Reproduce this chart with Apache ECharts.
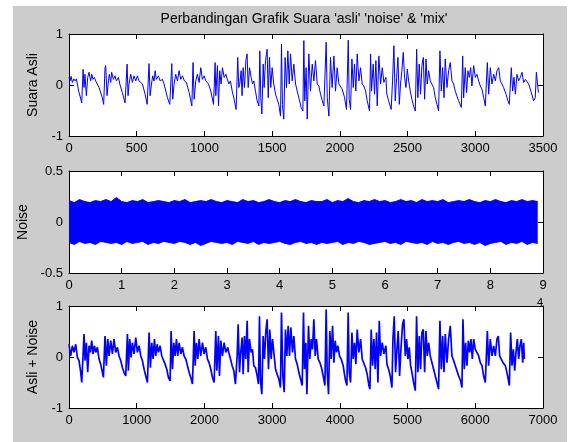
<!DOCTYPE html>
<html>
<head>
<meta charset="utf-8">
<title>Perbandingan Grafik Suara</title>
<script src="https://cdn.jsdelivr.net/npm/echarts@6.0.0/dist/echarts.min.js"></script>
<style>
  html, body { margin: 0; padding: 0; background: #fff; }
  #chart { width: 571px; height: 442px; }
</style>
</head>
<body>
<div id="chart"></div>
<script>
// sinyal asli: nomor sampel dan amplitudo
const asliT = [
  0, 8, 15, 25, 35, 45, 55, 70, 94, 104, 111, 118, 128, 138, 148, 160, 168, 177, 187, 197, 210, 222, 246, 256,
  266, 271, 281, 291, 298, 308, 315, 328, 340, 350, 365, 375, 394, 414,
  429, 436, 443, 456, 468, 480, 493, 505, 517, 530, 542, 562, 577,
  591, 599, 609, 618, 628, 636, 645, 660, 673, 690, 702, 727, 744,
  759, 766, 776, 788, 801, 813, 825, 838, 852, 867, 887, 907,
  916, 924, 936, 948, 961, 973, 985, 998, 1010, 1030, 1047, 1067,
  1079, 1084, 1096, 1104, 1113, 1123, 1133, 1146, 1158, 1173,
  1180, 1192, 1205, 1217, 1234, 1246, 1254, 1261, 1271, 1278, 1286, 1296, 1306, 1315, 1323, 1333, 1345, 1355, 1365, 1377, 1389, 1402, 1409, 1416, 1424,
  1434, 1441, 1451, 1463, 1471, 1480, 1490, 1500, 1512, 1525, 1537, 1549, 1562, 1569, 1576, 1586,
  1596, 1606, 1616, 1626, 1636, 1648, 1660, 1673, 1685, 1697, 1714, 1727, 1734, 1741, 1751, 1759,
  1771, 1783, 1796, 1808, 1820, 1833, 1845, 1857, 1870, 1882, 1899, 1907, 1919,
  1931, 1943, 1956, 1968, 1980, 1993, 2005, 2017, 2035, 2049, 2062, 2069, 2079,
  2089, 2099, 2108, 2118, 2128, 2141, 2153, 2165, 2177, 2190, 2202, 2219,
  2227, 2234, 2246, 2256, 2266, 2276, 2288, 2301, 2313, 2325, 2340,
  2347, 2360, 2379, 2389, 2399, 2409, 2419, 2429, 2439, 2448, 2458, 2468, 2478, 2488, 2498, 2508, 2520, 2532, 2544, 2557,
  2567, 2576, 2586, 2596, 2606, 2616, 2626, 2636, 2645, 2655, 2668, 2680, 2692, 2705, 2717, 2729,
  2739, 2749, 2759, 2769, 2778, 2791, 2803, 2815, 2828, 2840, 2852, 2877, 2897,
  2907, 2914, 2926, 2936, 2946, 2956, 2966, 2975, 2988, 3000, 3012, 3025, 3037, 3049, 3062, 3074,
  3089, 3099, 3111, 3123, 3136, 3148, 3160, 3173, 3185, 3197, 3209, 3227, 3241, 3251,
  3266, 3276, 3286, 3296, 3308, 3320, 3333, 3345, 3357, 3370, 3382, 3394, 3411, 3431, 3443, 3451, 3458, 3466
];
const asliV = [
  0.15, 0.08, 0.17, 0.05, 0.12, 0.08, 0.12, -0.10, -0.35, 0.31, -0.05, 0.21, -0.21, 0.15, 0.25, 0.08, 0.21, 0.11, 0.15, 0.08, 0.11, -0.05, -0.25, -0.38,
  0.34, 0.38, -0.21, 0.08, 0.21, 0.05, 0.25, 0.11, 0.18, 0.08, 0.15, 0.02, -0.15, -0.35,
  0.41, -0.21, 0.02, 0.21, 0.05, 0.18, 0.08, 0.18, 0.08, 0.11, 0.02, -0.18, -0.38,
  0.42, -0.21, 0.02, 0.18, 0.08, 0.28, 0.11, 0.18, 0.08, 0.11, 0.02, -0.25, -0.38,
  0.42, -0.28, 0.02, 0.21, 0.08, 0.28, 0.11, 0.18, 0.08, 0.05, -0.15, -0.41,
  0.44, -0.28, 0.08, 0.21, 0.05, 0.34, 0.11, 0.18, 0.08, 0.02, -0.12, -0.38,
  0.44, -0.21, 0.38, -0.41, 0.28, 0.02, 0.34, 0.15, 0.21, 0.08,
  0.02, 0.08, -0.12, -0.25, -0.48, 0.54, -0.05, 0.02, 0.28, -0.21, 0.34, -0.05, 0.48, 0.61, -0.05, 0.34, 0.15, 0.02, 0.08, -0.12, -0.31, -0.41, 0.67, -0.25, -0.57,
  0.41, -0.05, 0.48, 0.70, -0.25, 0.54, -0.05, 0.34, 0.02, -0.18, -0.28, -0.38, -0.61, 0.80, -0.38, -0.67,
  0.54, -0.05, 0.67, 0.02, 0.61, 0.08, 0.41, 0.02, -0.12, -0.25, -0.44, -0.51, 0.87, -0.31, 0.34, -0.67,
  0.61, -0.12, 0.41, 0.08, 0.48, 0.02, -0.02, -0.18, -0.31, -0.41, 0.84, -0.25, -0.61,
  0.54, -0.05, 0.57, -0.12, 0.34, 0.02, 0.02, -0.08, -0.25, -0.48, 0.88, -0.28, -0.48,
  0.51, -0.05, 0.41, -0.12, 0.61, 0.08, 0.34, 0.02, -0.02, -0.12, -0.31, -0.51,
  0.61, -0.12, 0.41, -0.18, 0.48, -0.41, 0.57, 0.02, 0.34, 0.05, 0.15,
  -0.18, -0.31, -0.48, 0.08, 0.77, -0.31, 0.15, 0.54, -0.38, 0.02, 0.28, 0.64, 0.15, -0.05, 0.31, 0.08, -0.12, -0.28, -0.41, -0.51,
  0.70, -0.25, 0.41, -0.18, 0.38, 0.54, -0.28, 0.51, 0.02, 0.28, 0.08, 0.05, -0.05, -0.25, -0.38, -0.51,
  0.67, -0.12, 0.34, -0.25, 0.51, -0.05, 0.28, 0.44, 0.08, 0.02, -0.12, -0.31, -0.44,
  0.57, -0.25, 0.34, -0.15, 0.28, 0.15, 0.34, -0.02, 0.38, 0.15, 0.21, 0.08, -0.02, -0.08, -0.25, -0.41,
  0.44, -0.18, 0.34, 0.02, 0.21, 0.08, 0.28, 0.34, 0.08, 0.02, -0.05, -0.18, -0.31, -0.38,
  0.34, -0.12, 0.15, -0.18, 0.21, 0.08, 0.15, 0.25, 0.05, 0.11, 0.08, 0.02, -0.12, -0.31, -0.25, 0.25, 0.28, -0.15
];

// noise: posisi (x 10^4 sampel) dan batas atas / bawah pita
const noiseX = [
  0, 0.1, 0.2, 0.3, 0.4, 0.5, 0.6, 0.7, 0.8, 0.9,
  1.0, 1.1, 1.2, 1.3, 1.4, 1.5, 1.6, 1.7, 1.8, 1.9,
  2.0, 2.1, 2.2, 2.3, 2.4, 2.5, 2.6, 2.7, 2.8, 2.9,
  3.0, 3.1, 3.2, 3.3, 3.4, 3.5, 3.6, 3.7, 3.8, 3.9,
  4.0, 4.1, 4.2, 4.3, 4.4, 4.5, 4.6, 4.7, 4.8, 4.9,
  5.0, 5.1, 5.2, 5.3, 5.4, 5.5, 5.6, 5.7, 5.8, 5.9,
  6.0, 6.1, 6.2, 6.3, 6.4, 6.5, 6.6, 6.7, 6.8, 6.9,
  7.0, 7.1, 7.2, 7.3, 7.4, 7.5, 7.6, 7.7, 7.8, 7.9,
  8.0, 8.1, 8.2, 8.3, 8.4, 8.5, 8.6, 8.7, 8.8, 8.9
];
const noiseUp = [
  0.21, 0.19, 0.22, 0.20, 0.19, 0.21, 0.20, 0.22, 0.20, 0.24,
  0.20, 0.19, 0.21, 0.20, 0.22, 0.19, 0.20, 0.21, 0.20, 0.19,
  0.21, 0.20, 0.22, 0.19, 0.20, 0.21, 0.20, 0.22, 0.20, 0.19,
  0.21, 0.20, 0.19, 0.22, 0.20, 0.21, 0.19, 0.20, 0.22, 0.20,
  0.19, 0.21, 0.20, 0.22, 0.20, 0.19, 0.21, 0.20, 0.20, 0.22,
  0.19, 0.21, 0.20, 0.23, 0.20, 0.19, 0.21, 0.20, 0.22, 0.20,
  0.21, 0.19, 0.20, 0.22, 0.20, 0.21, 0.19, 0.22, 0.20, 0.21,
  0.20, 0.22, 0.19, 0.20, 0.21, 0.20, 0.22, 0.20, 0.19, 0.21,
  0.20, 0.22, 0.20, 0.19, 0.21, 0.20, 0.22, 0.20, 0.21, 0.20
];
const noiseLo = [
  -0.20, -0.22, -0.19, -0.21, -0.20, -0.22, -0.19, -0.20, -0.21, -0.20,
  -0.22, -0.19, -0.21, -0.20, -0.19, -0.22, -0.20, -0.21, -0.19, -0.20,
  -0.21, -0.19, -0.20, -0.22, -0.20, -0.23, -0.21, -0.19, -0.20, -0.21,
  -0.20, -0.22, -0.19, -0.20, -0.21, -0.19, -0.22, -0.20, -0.21, -0.20,
  -0.19, -0.21, -0.22, -0.20, -0.19, -0.21, -0.20, -0.22, -0.20, -0.21,
  -0.20, -0.19, -0.22, -0.20, -0.21, -0.19, -0.20, -0.22, -0.21, -0.20,
  -0.19, -0.21, -0.20, -0.22, -0.19, -0.20, -0.21, -0.20, -0.22, -0.19,
  -0.21, -0.20, -0.22, -0.20, -0.19, -0.21, -0.20, -0.22, -0.20, -0.23,
  -0.21, -0.20, -0.19, -0.22, -0.20, -0.21, -0.19, -0.22, -0.20, -0.21
];

// asli + noise
const mixT = [
  0, 25, 50, 74, 99, 124, 148, 173, 188, 207, 222, 237, 257, 276, 296, 316, 335, 355, 375, 395,
  419, 444, 468, 493, 508, 532, 552, 572, 592, 616, 641, 665, 690, 715, 739, 764, 789, 813, 838, 863,
  877, 897, 917, 936, 961, 986, 1010, 1035, 1060, 1084, 1109, 1133, 1158, 1183, 1202, 1222, 1242, 1262, 1281, 1301,
  1321, 1345, 1370, 1394, 1419, 1444, 1468, 1493, 1508, 1528, 1547, 1567, 1587, 1606, 1626, 1651, 1675, 1700, 1725, 1749,
  1774, 1798, 1823, 1848, 1863, 1882, 1902, 1922, 1946, 1971, 1995, 2020, 2045, 2069, 2094, 2119, 2143, 2168, 2183, 2207,
  2222, 2242, 2266, 2291, 2316, 2345,
  2360, 2385, 2409, 2434, 2458, 2483, 2498, 2518, 2532, 2557, 2572, 2591, 2611, 2631, 2646, 2665, 2690, 2710, 2729, 2754,
  2779, 2798, 2813, 2828, 2848, 2867, 2887, 2907, 2926, 2946, 2966, 2985, 3005, 3025, 3050, 3074, 3099, 3123, 3138, 3158,
  3178, 3197, 3217, 3237, 3256, 3276, 3301, 3320, 3345, 3370, 3394, 3419, 3444, 3463, 3478, 3498, 3513, 3537, 3557, 3577,
  3596, 3616, 3636, 3655, 3680, 3705, 3729, 3754, 3779, 3798, 3813, 3833, 3852, 3872, 3892, 3912, 3931, 3951, 3971, 3995,
  4020, 4049, 4079, 4104, 4123, 4138, 4158, 4178, 4197, 4217, 4237, 4256, 4281, 4306, 4330, 4355, 4380, 4404, 4429, 4444,
  4463, 4483, 4503, 4522, 4542, 4562, 4582, 4601, 4626, 4650, 4680,
  4695, 4720, 4744, 4769, 4784, 4803, 4823, 4843, 4862, 4882, 4902, 4926, 4946, 4966, 4986, 5005, 5025, 5045, 5064, 5089,
  5114, 5133, 5153, 5173, 5192, 5212, 5232, 5252, 5271, 5291, 5311, 5335, 5360, 5385, 5409, 5434, 5458, 5478, 5498, 5518,
  5537, 5557, 5582, 5606, 5631, 5655, 5680, 5705, 5754, 5784, 5803, 5818, 5838, 5857, 5877, 5897, 5917, 5936, 5956, 5976,
  6000, 6025, 6050, 6074, 6099, 6123, 6148, 6178, 6197, 6222, 6247, 6271, 6296, 6320, 6340, 6360, 6385, 6409, 6444, 6473,
  6503, 6522, 6542, 6562, 6582, 6601, 6621, 6641, 6660, 6680, 6700, 6715, 6724
];
const mixV = [
  0.25, 0.02, 0.22, 0.09, 0.25, -0.01, -0.07, -0.30, -0.50, 0.02, 0.45, -0.07, 0.28, -0.30, 0.22, 0.09, 0.32, 0.06, 0.22, 0.09,
  0.19, -0.04, -0.14, -0.30, -0.40, 0.41, -0.17, 0.35, 0.02, 0.32, 0.06, 0.35, 0.09, 0.19, 0.02, -0.07, -0.21, -0.30, -0.37, 0.45,
  -0.27, 0.35, -0.01, 0.28, 0.06, 0.38, 0.09, 0.22, 0.02, -0.07, -0.24, -0.37, -0.50, 0.48, -0.21, 0.28, -0.04, 0.35, 0.02, 0.25,
  0.09, 0.22, 0.02, 0.02, -0.14, -0.24, -0.40, -0.47, 0.51, -0.24, 0.28, 0.02, 0.35, 0.02, 0.28, 0.06, 0.19, 0.02, -0.04, -0.17,
  -0.30, -0.40, -0.53, 0.51, -0.17, 0.28, -0.04, 0.35, 0.02, 0.28, 0.06, 0.19, -0.04, -0.11, -0.24, -0.40, -0.50, 0.51, -0.27, 0.41,
  -0.37, 0.32, 0.02, 0.28, 0.09, 0.19,
  0.09, -0.04, -0.17, -0.27, -0.53, 0.02, 0.64, -0.30, 0.02, 0.38, -0.34, 0.41, -0.04, 0.71, -0.30, 0.35, 0.09, 0.15, -0.17, -0.21,
  -0.37, -0.53, 0.80, -0.47, -0.73, 0.41, -0.04, 0.51, 0.74, -0.24, 0.54, -0.04, 0.35, 0.09, -0.24, -0.34, -0.43, -0.60, 0.87, -0.37,
  -0.69, 0.54, 0.02, 0.61, 0.02, 0.58, 0.09, 0.41, -0.04, -0.14, -0.30, -0.43, -0.56, 0.87, -0.24, 0.28, -0.73, 0.61, -0.04, 0.35,
  0.15, 0.74, 0.02, 0.35, -0.04, -0.11, -0.21, -0.37, -0.56, 0.93, -0.30, -0.73, 0.51, -0.04, 0.61, -0.11, 0.32, 0.09, 0.22, 0.02,
  -0.04, -0.17, -0.43, -0.56, 0.87, -0.30, -0.50, 0.48, -0.04, 0.28, -0.14, 0.54, 0.09, 0.35, -0.04, -0.07, -0.21, -0.34, -0.56, -0.63,
  0.54, -0.17, 0.35, -0.24, 0.48, -0.50, 0.71, 0.02, 0.28, 0.06, 0.22,
  -0.14, -0.24, -0.37, -0.60, 0.35, 0.80, -0.30, 0.15, 0.51, -0.37, 0.15, 0.64, 0.74, 0.02, 0.35, -0.04, 0.19, -0.17, -0.30, -0.50,
  -0.66, 0.80, -0.30, 0.41, -0.24, 0.48, 0.54, -0.30, 0.51, 0.02, 0.28, 0.02, -0.11, -0.24, -0.37, -0.50, -0.63, 0.71, -0.24, 0.41,
  -0.30, 0.45, -0.11, 0.35, 0.61, 0.02, -0.07, -0.17, -0.37, -0.47, -0.60, 0.74, -0.24, 0.28, -0.17, 0.32, 0.09, 0.35, -0.04, 0.35,
  0.15, 0.15, 0.02, -0.11, -0.17, -0.37, -0.50, 0.51, -0.17, 0.35, 0.02, 0.22, 0.02, 0.35, 0.41, 0.02, 0.02, -0.11, -0.17, -0.34,
  -0.56, 0.48, -0.17, 0.15, -0.27, 0.09, 0.35, -0.04, 0.22, 0.35, -0.11, 0.28, -0.04
];

// tick axis
const asliTicks = [0, 500, 1000, 1500, 2000, 2500, 3000, 3500];
const noiseTicks = [0, 1, 2, 3, 4, 5, 6, 7, 8, 9];
const mixTicks = [0, 1000, 2000, 3000, 4000, 5000, 6000, 7000];
const ampTicks = [-1, 0, 1];
const noiseAmpTicks = [-0.5, 0, 0.5];

const titleText = "Perbandingan Grafik Suara 'asli' 'noise' & 'mix'";
const yNames = ['Suara Asli', 'Noise', 'Asli + Noise'];

const blue = '#0000ff';
const font = '"Liberation Sans", Arial, Helvetica, sans-serif';

const chart = echarts.init(document.getElementById('chart'), null, { renderer: 'canvas' });

function axisBase(ticks, position, gridIndex, showLabel) {
  return {
    type: 'value',
    gridIndex,
    position,
    min: ticks[0],
    max: ticks[ticks.length - 1],
    interval: ticks[1] - ticks[0],
    axisLine: { show: true, onZero: false, lineStyle: { color: '#000', width: 1 } },
    axisTick: { show: true, inside: true, length: 5, lineStyle: { color: '#000', width: 1 } },
    axisLabel: {
      show: showLabel, margin: 6, color: '#000', fontSize: 13, fontFamily: font,
      showMinLabel: true, showMaxLabel: true,
      formatter: (v) => String(v),
    },
    splitLine: { show: false },
  };
}

const xTickSets = [asliTicks, noiseTicks, mixTicks];
const yTickSets = [ampTicks, noiseAmpTicks, ampTicks];
const nameGaps = [24, 32, 24];

const xAxes = [];
const yAxes = [];
for (let g = 0; g < 3; g++) {
  xAxes.push(axisBase(xTickSets[g], 'bottom', g, true));
  xAxes.push(axisBase(xTickSets[g], 'top', g, false));
  const yl = axisBase(yTickSets[g], 'left', g, true);
  yl.name = yNames[g];
  yl.nameLocation = 'middle';
  yl.nameGap = nameGaps[g];
  yl.nameTextStyle = { color: '#000', fontSize: 14, fontFamily: font };
  yAxes.push(yl);
  yAxes.push(axisBase(yTickSets[g], 'right', g, false));
}

const lineBase = {
  type: 'line',
  showSymbol: false,
  symbol: 'none',
  silent: true,
  animation: false,
  itemStyle: { color: blue },
};

chart.setOption({
  animation: false,
  backgroundColor: 'transparent',
  graphic: [
    {
      type: 'rect', z: -100, silent: true,
      shape: { x: 13, y: 6, width: 554, height: 436 },
      style: { fill: '#cccccc' },
    },
    {
      type: 'text', x: 304, y: 19, silent: true,
      style: {
        text: titleText, fill: '#000', font: '14px ' + font,
        textAlign: 'center', textVerticalAlign: 'middle',
      },
    },
    {
      type: 'text', x: 540, y: 303, silent: true,
      style: {
        text: '4', fill: '#000', font: '11px ' + font,
        textAlign: 'center', textVerticalAlign: 'middle',
      },
    },
  ],
  grid: [
    { left: 69, top: 34, width: 474, height: 102, show: true, backgroundColor: '#fff', borderWidth: 0 },
    { left: 69, top: 171, width: 474, height: 102, show: true, backgroundColor: '#fff', borderWidth: 0 },
    { left: 69, top: 306, width: 474, height: 102, show: true, backgroundColor: '#fff', borderWidth: 0 },
  ],
  xAxis: xAxes,
  yAxis: yAxes,
  series: [
    Object.assign({}, lineBase, {
      xAxisIndex: 0, yAxisIndex: 0,
      data: asliT.map((t, i) => [t, asliV[i]]),
      lineStyle: { color: blue, width: 1 },
    }),
    Object.assign({}, lineBase, {
      xAxisIndex: 2, yAxisIndex: 2,
      data: noiseX.map((t, i) => [t, noiseUp[i]]),
      lineStyle: { color: blue, width: 1 },
      areaStyle: { color: blue, opacity: 1, origin: 'auto' },
    }),
    Object.assign({}, lineBase, {
      xAxisIndex: 2, yAxisIndex: 2,
      data: noiseX.map((t, i) => [t, noiseLo[i]]),
      lineStyle: { color: blue, width: 1 },
      areaStyle: { color: blue, opacity: 1, origin: 'auto' },
    }),
    Object.assign({}, lineBase, {
      xAxisIndex: 4, yAxisIndex: 4,
      data: mixT.map((t, i) => [t, mixV[i]]),
      lineStyle: { color: blue, width: 1.7 },
    }),
  ],
});
</script>
</body>
</html>
